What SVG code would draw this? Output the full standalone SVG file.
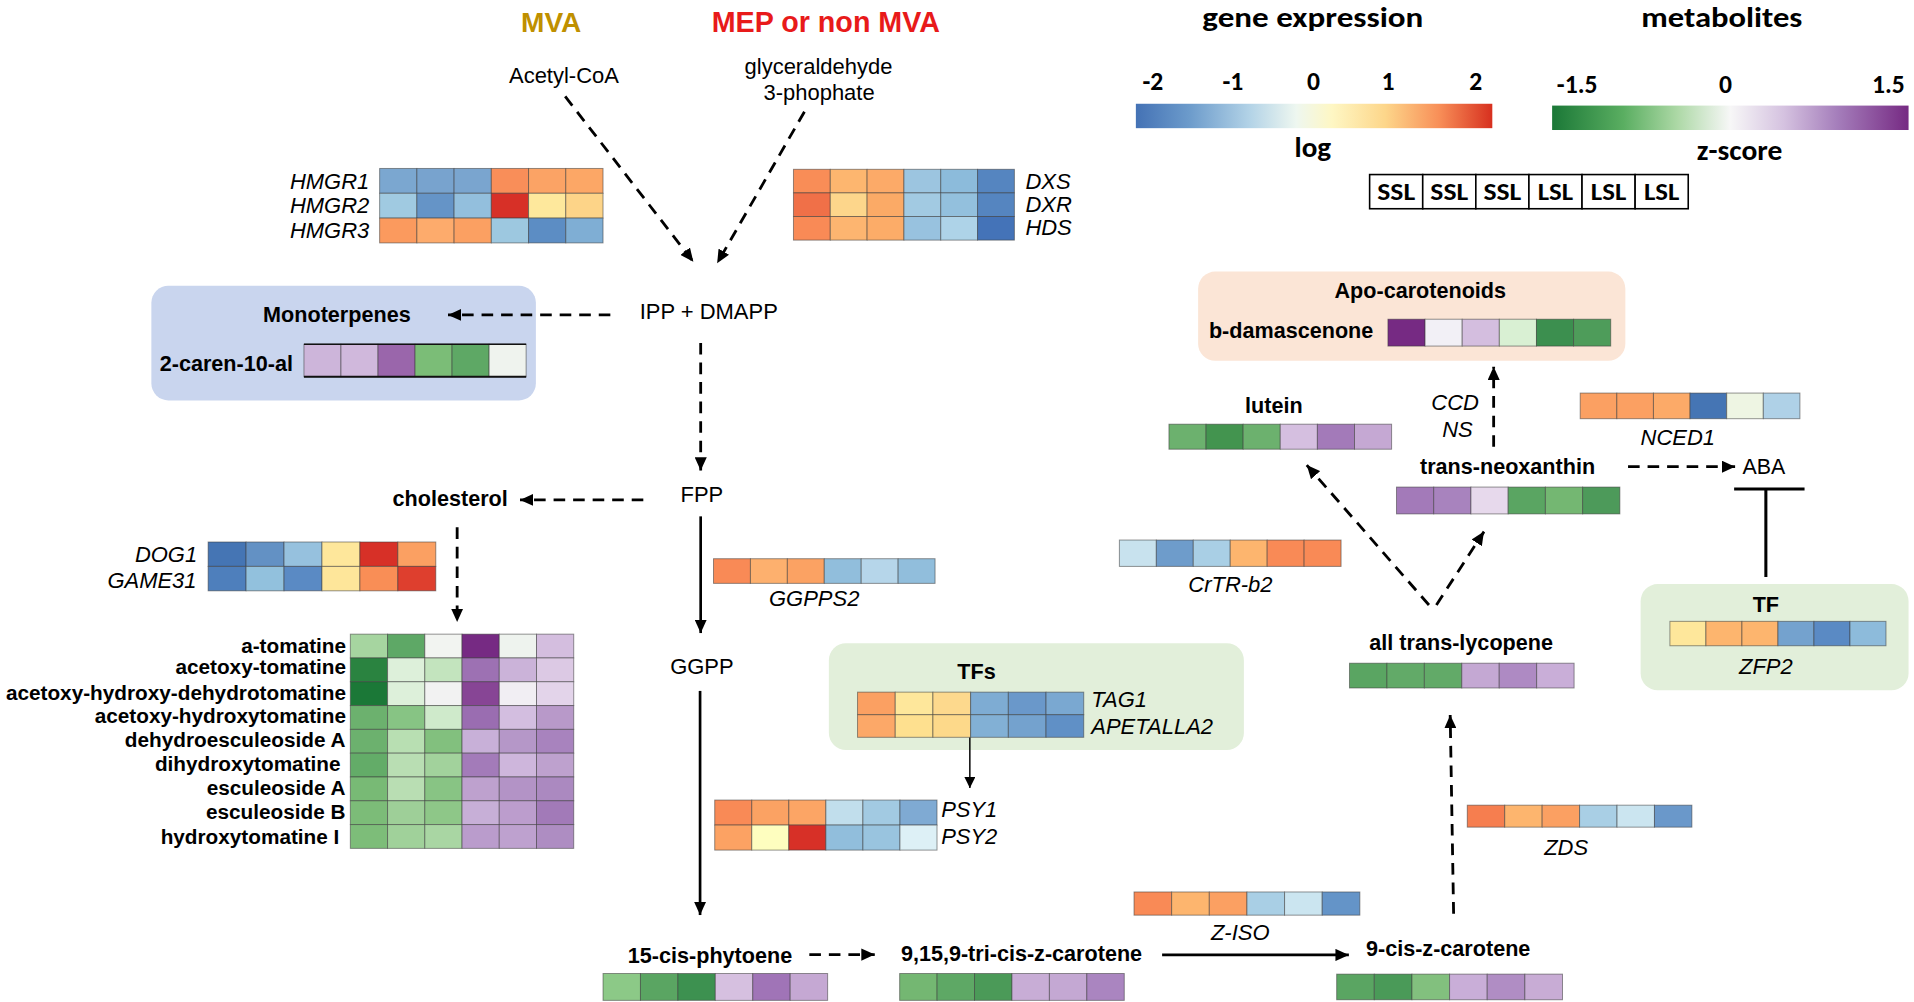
<svg xmlns="http://www.w3.org/2000/svg" width="1914" height="1002" viewBox="0 0 1914 1002">
<defs>
<style>
text{font-family:"Liberation Sans",Arial,sans-serif;fill:#000}
.b{font-weight:bold;font-size:17.7px}
.bt{font-weight:bold;font-size:17px}
.r{font-size:18px}
.i{font-style:italic;font-size:18px}
.cal{font-family:Carlito,Lato,"Open Sans",sans-serif;font-weight:bold}
.hm rect{stroke:#3a3a3a;stroke-opacity:.55;stroke-width:.8}
.d{stroke:#000;stroke-width:2.3;stroke-dasharray:9.5 6.5;fill:none}
.s{stroke:#000;stroke-width:2.2;fill:none}
.m{text-anchor:middle}
.e{text-anchor:end}
</style>
<marker id="ah" markerUnits="userSpaceOnUse" markerWidth="11" markerHeight="10" refX="11" refY="5" orient="auto"><path d="M0,0 L11,5 L0,10 z" fill="#000"/></marker>
<marker id="ahs" markerUnits="userSpaceOnUse" markerWidth="9" markerHeight="9" refX="9" refY="4.5" orient="auto"><path d="M0,0 L9,4.5 L0,9 z" fill="#000"/></marker>
<linearGradient id="gGene" x1="0" x2="1" y1="0" y2="0">
<stop offset="0" stop-color="#4472B5"/><stop offset="0.15" stop-color="#6C9BCB"/><stop offset="0.32" stop-color="#B3D3E7"/><stop offset="0.45" stop-color="#EEF7F0"/><stop offset="0.55" stop-color="#FEF7C4"/><stop offset="0.7" stop-color="#FDD68A"/><stop offset="0.85" stop-color="#F88F58"/><stop offset="1" stop-color="#D7301F"/>
</linearGradient>
<linearGradient id="gMet" x1="0" x2="1" y1="0" y2="0">
<stop offset="0" stop-color="#1B7837"/><stop offset="0.2" stop-color="#5AAE61"/><stop offset="0.35" stop-color="#ACD8A5"/><stop offset="0.5" stop-color="#F7F7F7"/><stop offset="0.65" stop-color="#D5C2E0"/><stop offset="0.8" stop-color="#A57EBB"/><stop offset="1" stop-color="#762A83"/>
</linearGradient>
</defs>
<rect width="1914" height="1002" fill="#fff"/>
<g transform="scale(1.2207)">

<!-- backgrounds -->
<rect id="box-mono" x="124" y="234" width="315" height="94" rx="14" fill="#C9D5EE"/>
<rect id="box-apo" x="981.5" y="222.5" width="350" height="73" rx="14" fill="#FBE5D6"/>
<rect id="box-tfs" x="679" y="527" width="340" height="87.5" rx="14" fill="#E2EFDA"/>
<rect id="box-tf" x="1344" y="478.5" width="219.5" height="87" rx="14" fill="#E2EFDA"/>

<!-- header -->
<g id="title-mva"><text x="451.5" y="26" class="m" style="font-weight:bold;font-size:23px;fill:#BF9000">MVA</text></g>
<g id="title-mep"><text x="676.5" y="26.5" class="m" style="font-weight:bold;font-size:23.5px;fill:#E81A1A">MEP or non MVA</text></g>

<g id="legend-gene">
<text x="985" y="22" class="cal" style="font-size:23px" textLength="181" lengthAdjust="spacingAndGlyphs">gene expression</text>
<text x="944.5" y="74" class="cal m" style="font-size:21px">-2</text>
<text x="1010" y="74" class="cal m" style="font-size:21px">-1</text>
<text x="1076" y="74" class="cal m" style="font-size:21px">0</text>
<text x="1137" y="74" class="cal m" style="font-size:21px">1</text>
<text x="1209" y="74" class="cal m" style="font-size:21px">2</text>
<rect x="930.5" y="85" width="292" height="20" fill="url(#gGene)"/>
<text x="1075.5" y="128.5" class="cal m" style="font-size:23px" textLength="30" lengthAdjust="spacingAndGlyphs">log</text>
</g>
<g id="legend-met">
<text x="1344.5" y="22" class="cal" style="font-size:23px" textLength="132" lengthAdjust="spacingAndGlyphs">metabolites</text>
<text x="1292" y="76.5" class="cal m" style="font-size:21px">-1.5</text>
<text x="1413.5" y="76.5" class="cal m" style="font-size:21px">0</text>
<text x="1547" y="76.5" class="cal m" style="font-size:21px">1.5</text>
<rect x="1271.5" y="86.5" width="292" height="20" fill="url(#gMet)"/>
<text x="1425" y="131" class="cal m" style="font-size:23px" textLength="70" lengthAdjust="spacingAndGlyphs">z-score</text>
</g>
<g id="legend-samples" style="fill:#fff;stroke:#000;stroke-width:1.3">
<rect x="1122" y="143" width="43.5" height="28"/><rect x="1165.5" y="143" width="43.5" height="28"/><rect x="1209" y="143" width="43.5" height="28"/><rect x="1252.5" y="143" width="43.5" height="28"/><rect x="1296" y="143" width="43.5" height="28"/><rect x="1339.5" y="143" width="43.5" height="28"/>
</g>
<g id="legend-sample-labels" class="cal" style="font-size:19px">
<text x="1143.75" y="164" class="cal m" textLength="31" lengthAdjust="spacingAndGlyphs">SSL</text>
<text x="1187.25" y="164" class="cal m" textLength="31" lengthAdjust="spacingAndGlyphs">SSL</text>
<text x="1230.75" y="164" class="cal m" textLength="31" lengthAdjust="spacingAndGlyphs">SSL</text>
<text x="1274.25" y="164" class="cal m" textLength="29" lengthAdjust="spacingAndGlyphs">LSL</text>
<text x="1317.75" y="164" class="cal m" textLength="29" lengthAdjust="spacingAndGlyphs">LSL</text>
<text x="1361.25" y="164" class="cal m" textLength="29" lengthAdjust="spacingAndGlyphs">LSL</text>
</g>

<!-- connectors -->
<g id="connectors">
<line class="d" x1="463" y1="79" x2="568" y2="214.5" marker-end="url(#ah)"/>
<line class="d" x1="659" y1="91.5" x2="587.5" y2="215.7" marker-end="url(#ah)"/>
<line class="d" x1="500" y1="258" x2="367" y2="258" marker-end="url(#ah)"/>
<line class="d" x1="574" y1="281" x2="574" y2="385.5" marker-end="url(#ah)"/>
<line class="d" x1="527" y1="409.5" x2="426" y2="409.5" marker-end="url(#ah)"/>
<line class="d" x1="374.5" y1="432" x2="374.5" y2="509.5" marker-end="url(#ah)"/>
<line class="s" x1="574" y1="423" x2="574" y2="518.6" marker-end="url(#ah)"/>
<line class="s" x1="573.5" y1="566" x2="573.5" y2="749.6" marker-end="url(#ah)"/>
<line x1="794.5" y1="604" x2="794.5" y2="645.5" stroke="#000" stroke-width="1.2" marker-end="url(#ahs)"/>
<line class="d" x1="663" y1="782" x2="716.6" y2="782" marker-end="url(#ah)"/>
<line class="s" x1="952" y1="782.3" x2="1105" y2="782.3" marker-end="url(#ah)"/>
<line class="d" x1="1190.8" y1="748.5" x2="1188" y2="585.7" marker-end="url(#ah)"/>
<line class="d" x1="1170.6" y1="495.6" x2="1070.5" y2="381" marker-end="url(#ah)"/>
<line class="d" x1="1176.7" y1="495.6" x2="1215.7" y2="435.5" marker-end="url(#ah)"/>
<line class="d" x1="1223.6" y1="366" x2="1223.6" y2="300.4" marker-end="url(#ah)"/>
<line class="d" x1="1333.7" y1="382.3" x2="1421.4" y2="382.3" marker-end="url(#ah)"/>
<line x1="1446.6" y1="472.7" x2="1446.6" y2="400.6" stroke="#000" stroke-width="2.5"/>
<line x1="1420.6" y1="400.6" x2="1478.3" y2="400.6" stroke="#000" stroke-width="2.5"/>
</g>

<!-- nodes -->
<g id="acetyl-coa"><text x="462" y="68.3" class="r m">Acetyl-CoA</text></g>
<g id="g3p"><text x="670.5" y="61" class="r m">glyceraldehyde</text><text x="671" y="82" class="r m">3-phophate</text></g>
<g id="ipp-dmapp"><text x="524" y="261" class="r">IPP + DMAPP</text></g>
<g id="fpp"><text x="575" y="411" class="r m">FPP</text></g>
<g id="ggpp"><text x="575" y="552" class="r m">GGPP</text></g>
<g id="aba"><text x="1427.5" y="388.4" class="r" style="font-size:17.5px">ABA</text></g>

<g id="hmgr">
<g class="hm" transform="translate(311 138)">
<rect x="0" y="0" width="30.5" height="20.33" fill="#7BA7D0"/><rect x="30.5" y="0" width="30.5" height="20.33" fill="#78A3CE"/><rect x="61" y="0" width="30.5" height="20.33" fill="#7AA5CF"/><rect x="91.5" y="0" width="30.5" height="20.33" fill="#F98E59"/><rect x="122" y="0" width="30.5" height="20.33" fill="#FBA365"/><rect x="152.5" y="0" width="30.5" height="20.33" fill="#FCA766"/>
<rect x="0" y="20.33" width="30.5" height="20.33" fill="#A0CAE1"/><rect x="30.5" y="20.33" width="30.5" height="20.33" fill="#6594C7"/><rect x="61" y="20.33" width="30.5" height="20.33" fill="#93BFDD"/><rect x="91.5" y="20.33" width="30.5" height="20.33" fill="#D73027"/><rect x="122" y="20.33" width="30.5" height="20.33" fill="#FEE89C"/><rect x="152.5" y="20.33" width="30.5" height="20.33" fill="#FDD488"/>
<rect x="0" y="40.67" width="30.5" height="20.33" fill="#FB9A5E"/><rect x="30.5" y="40.67" width="30.5" height="20.33" fill="#FDAB6C"/><rect x="61" y="40.67" width="30.5" height="20.33" fill="#FBA062"/><rect x="91.5" y="40.67" width="30.5" height="20.33" fill="#9DC8E0"/><rect x="122" y="40.67" width="30.5" height="20.33" fill="#5C8DC4"/><rect x="152.5" y="40.67" width="30.5" height="20.33" fill="#7FAED4"/>
</g>
<text x="302.5" y="155" class="i e">HMGR1</text><text x="302.5" y="174.5" class="i e">HMGR2</text><text x="302.5" y="195" class="i e">HMGR3</text>
</g>

<g id="dxs">
<g class="hm" transform="translate(650 138.7)">
<rect x="0" y="0" width="30.17" height="19.33" fill="#F98D57"/><rect x="30.17" y="0" width="30.17" height="19.33" fill="#FDB66F"/><rect x="60.33" y="0" width="30.17" height="19.33" fill="#FCAA68"/><rect x="90.5" y="0" width="30.17" height="19.33" fill="#9CC5E0"/><rect x="120.67" y="0" width="30.17" height="19.33" fill="#8CBBDB"/><rect x="150.83" y="0" width="30.17" height="19.33" fill="#5585C0"/>
<rect x="0" y="19.33" width="30.17" height="19.33" fill="#F07048"/><rect x="30.17" y="19.33" width="30.17" height="19.33" fill="#FDD68B"/><rect x="60.33" y="19.33" width="30.17" height="19.33" fill="#FBAA66"/><rect x="90.5" y="19.33" width="30.17" height="19.33" fill="#A2CAE2"/><rect x="120.67" y="19.33" width="30.17" height="19.33" fill="#93C0DD"/><rect x="150.83" y="19.33" width="30.17" height="19.33" fill="#5585C0"/>
<rect x="0" y="38.67" width="30.17" height="19.33" fill="#F98A56"/><rect x="30.17" y="38.67" width="30.17" height="19.33" fill="#FDB570"/><rect x="60.33" y="38.67" width="30.17" height="19.33" fill="#FCAC68"/><rect x="90.5" y="38.67" width="30.17" height="19.33" fill="#98C2DF"/><rect x="120.67" y="38.67" width="30.17" height="19.33" fill="#AED3E8"/><rect x="150.83" y="38.67" width="30.17" height="19.33" fill="#4473B8"/>
</g>
<text x="840" y="154.5" class="i">DXS</text><text x="840" y="174" class="i">DXR</text><text x="840" y="192.5" class="i">HDS</text>
</g>

<g id="monoterpenes">
<text x="276" y="264" class="b m">Monoterpenes</text>
<text x="240" y="304" class="b e">2-caren-10-al</text>
<g class="hm" transform="translate(249 282)">
<rect x="0" y="0" width="30.33" height="26.6" fill="#CDB5DA"/><rect x="30.33" y="0" width="30.33" height="26.6" fill="#D0B8DC"/><rect x="60.67" y="0" width="30.33" height="26.6" fill="#9A66AB"/><rect x="91" y="0" width="30.33" height="26.6" fill="#7BBD77"/><rect x="121.33" y="0" width="30.33" height="26.6" fill="#5EA865"/><rect x="151.67" y="0" width="30.33" height="26.6" fill="#EFF3EE"/>
</g>
<line x1="249" y1="282" x2="431" y2="282" stroke="#111" stroke-width="1.2"/>
<line x1="249" y1="308.6" x2="431" y2="308.6" stroke="#111" stroke-width="1.6"/>
</g>

<g id="cholesterol"><text x="416" y="414.5" class="b e">cholesterol</text></g>

<g id="dog1">
<g class="hm" transform="translate(170.5 444)">
<rect x="0" y="0" width="31.08" height="20" fill="#4575B4"/><rect x="31.08" y="0" width="31.08" height="20" fill="#6391C4"/><rect x="62.17" y="0" width="31.08" height="20" fill="#96C1DE"/><rect x="93.25" y="0" width="31.08" height="20" fill="#FEE79B"/><rect x="124.33" y="0" width="31.08" height="20" fill="#D73027"/><rect x="155.42" y="0" width="31.08" height="20" fill="#FBA062"/>
<rect x="0" y="20" width="31.08" height="20" fill="#4E7FBC"/><rect x="31.08" y="20" width="31.08" height="20" fill="#92C1DD"/><rect x="62.17" y="20" width="31.08" height="20" fill="#5A8AC4"/><rect x="93.25" y="20" width="31.08" height="20" fill="#FEE69A"/><rect x="124.33" y="20" width="31.08" height="20" fill="#F98E56"/><rect x="155.42" y="20" width="31.08" height="20" fill="#DE3F2E"/>
</g>
<text x="161.5" y="460" class="i e">DOG1</text><text x="161" y="482" class="i e">GAME31</text>
</g>

<g id="tomatines">
<g class="hm" transform="translate(287 519.5)">
<rect x="0" y="0" width="30.5" height="19.5" fill="#A6D5A0"/><rect x="30.5" y="0" width="30.5" height="19.5" fill="#5EA866"/><rect x="61" y="0" width="30.5" height="19.5" fill="#F2F4F1"/><rect x="91.5" y="0" width="30.5" height="19.5" fill="#762A83"/><rect x="122" y="0" width="30.5" height="19.5" fill="#EEF3EE"/><rect x="152.5" y="0" width="30.5" height="19.5" fill="#D4BEDF"/>
<rect x="0" y="19.5" width="30.5" height="19.5" fill="#2A8340"/><rect x="30.5" y="19.5" width="30.5" height="19.5" fill="#DDF0DA"/><rect x="61" y="19.5" width="30.5" height="19.5" fill="#C3E4BE"/><rect x="91.5" y="19.5" width="30.5" height="19.5" fill="#9D71B3"/><rect x="122" y="19.5" width="30.5" height="19.5" fill="#CBB3D9"/><rect x="152.5" y="19.5" width="30.5" height="19.5" fill="#DCC9E4"/>
<rect x="0" y="39" width="30.5" height="19.5" fill="#1B7837"/><rect x="30.5" y="39" width="30.5" height="19.5" fill="#DDF0DA"/><rect x="61" y="39" width="30.5" height="19.5" fill="#F2F2F2"/><rect x="91.5" y="39" width="30.5" height="19.5" fill="#874595"/><rect x="122" y="39" width="30.5" height="19.5" fill="#F1EEF3"/><rect x="152.5" y="39" width="30.5" height="19.5" fill="#E3D4EA"/>
<rect x="0" y="58.5" width="30.5" height="19.5" fill="#6CB16E"/><rect x="30.5" y="58.5" width="30.5" height="19.5" fill="#87C484"/><rect x="61" y="58.5" width="30.5" height="19.5" fill="#CFEACB"/><rect x="91.5" y="58.5" width="30.5" height="19.5" fill="#9A6DB1"/><rect x="122" y="58.5" width="30.5" height="19.5" fill="#D3BEE0"/><rect x="152.5" y="58.5" width="30.5" height="19.5" fill="#B899C9"/>
<rect x="0" y="78" width="30.5" height="19.5" fill="#6CB16E"/><rect x="30.5" y="78" width="30.5" height="19.5" fill="#B8DFB2"/><rect x="61" y="78" width="30.5" height="19.5" fill="#82C07E"/><rect x="91.5" y="78" width="30.5" height="19.5" fill="#C8B0D8"/><rect x="122" y="78" width="30.5" height="19.5" fill="#B597C8"/><rect x="152.5" y="78" width="30.5" height="19.5" fill="#A883BE"/>
<rect x="0" y="97.5" width="30.5" height="19.5" fill="#63AC68"/><rect x="30.5" y="97.5" width="30.5" height="19.5" fill="#B9DEB3"/><rect x="61" y="97.5" width="30.5" height="19.5" fill="#A2D29C"/><rect x="91.5" y="97.5" width="30.5" height="19.5" fill="#A37BB9"/><rect x="122" y="97.5" width="30.5" height="19.5" fill="#CEB6DC"/><rect x="152.5" y="97.5" width="30.5" height="19.5" fill="#BEA1CE"/>
<rect x="0" y="117" width="30.5" height="19.5" fill="#78BA75"/><rect x="30.5" y="117" width="30.5" height="19.5" fill="#B9DEB3"/><rect x="61" y="117" width="30.5" height="19.5" fill="#88C484"/><rect x="91.5" y="117" width="30.5" height="19.5" fill="#BEA1CE"/><rect x="122" y="117" width="30.5" height="19.5" fill="#B393C6"/><rect x="152.5" y="117" width="30.5" height="19.5" fill="#AB89C0"/>
<rect x="0" y="136.5" width="30.5" height="19.5" fill="#7CBC78"/><rect x="30.5" y="136.5" width="30.5" height="19.5" fill="#9ECF98"/><rect x="61" y="136.5" width="30.5" height="19.5" fill="#8EC788"/><rect x="91.5" y="136.5" width="30.5" height="19.5" fill="#C7AFD7"/><rect x="122" y="136.5" width="30.5" height="19.5" fill="#BC9DCD"/><rect x="152.5" y="136.5" width="30.5" height="19.5" fill="#A27AB8"/>
<rect x="0" y="156" width="30.5" height="19.5" fill="#7DBD79"/><rect x="30.5" y="156" width="30.5" height="19.5" fill="#A0D19A"/><rect x="61" y="156" width="30.5" height="19.5" fill="#A9D6A3"/><rect x="91.5" y="156" width="30.5" height="19.5" fill="#BA9CCC"/><rect x="122" y="156" width="30.5" height="19.5" fill="#BEA1CF"/><rect x="152.5" y="156" width="30.5" height="19.5" fill="#AE8DC2"/>
</g>
<text x="283.5" y="535" class="bt e">a-tomatine</text>
<text x="283.5" y="552.5" class="bt e">acetoxy-tomatine</text>
<text x="283.5" y="573.5" class="bt e">acetoxy-hydroxy-dehydrotomatine</text>
<text x="283.5" y="592" class="bt e">acetoxy-hydroxytomatine</text>
<text x="283" y="612" class="bt e">dehydroesculeoside A</text>
<text x="279" y="631.5" class="bt e">dihydroxytomatine</text>
<text x="283" y="651" class="bt e">esculeoside A</text>
<text x="283" y="671" class="bt e">esculeoside B</text>
<text x="278" y="691" class="bt e">hydroxytomatine I</text>
</g>

<g id="ggpps2">
<g class="hm" transform="translate(584.5 457.7)">
<rect x="0" y="0" width="30.25" height="20.2" fill="#F98A56"/><rect x="30.25" y="0" width="30.25" height="20.2" fill="#FDB06E"/><rect x="60.5" y="0" width="30.25" height="20.2" fill="#FBA263"/><rect x="90.75" y="0" width="30.25" height="20.2" fill="#91BEDC"/><rect x="121" y="0" width="30.25" height="20.2" fill="#B6D6EA"/><rect x="151.25" y="0" width="30.25" height="20.2" fill="#91BEDC"/>
</g>
<text x="667" y="496.5" class="i m">GGPPS2</text>
</g>

<g id="tfs">
<text x="800" y="556" class="b m">TFs</text>
<g class="hm" transform="translate(702.5 567)">
<rect x="0" y="0" width="30.88" height="18.5" fill="#FBA062"/><rect x="30.88" y="0" width="30.88" height="18.5" fill="#FEE79B"/><rect x="61.77" y="0" width="30.88" height="18.5" fill="#FDD98D"/><rect x="92.65" y="0" width="30.88" height="18.5" fill="#7EACD3"/><rect x="123.53" y="0" width="30.88" height="18.5" fill="#6A98CA"/><rect x="154.42" y="0" width="30.88" height="18.5" fill="#7AA8D1"/>
<rect x="0" y="18.5" width="30.88" height="18.5" fill="#FCA868"/><rect x="30.88" y="18.5" width="30.88" height="18.5" fill="#FEE08F"/><rect x="61.77" y="18.5" width="30.88" height="18.5" fill="#FDD98A"/><rect x="92.65" y="18.5" width="30.88" height="18.5" fill="#82B0D5"/><rect x="123.53" y="18.5" width="30.88" height="18.5" fill="#74A2CE"/><rect x="154.42" y="18.5" width="30.88" height="18.5" fill="#6090C6"/>
</g>
<text x="894" y="579" class="i">TAG1</text><text x="894" y="601" class="i">APETALLA2</text>
</g>

<g id="psy">
<g class="hm" transform="translate(585.5 655.4)">
<rect x="0" y="0" width="30.35" height="20.5" fill="#F98A56"/><rect x="30.35" y="0" width="30.35" height="20.5" fill="#FBA263"/><rect x="60.7" y="0" width="30.35" height="20.5" fill="#FCA565"/><rect x="91.05" y="0" width="30.35" height="20.5" fill="#C1DEEC"/><rect x="121.4" y="0" width="30.35" height="20.5" fill="#A2CAE2"/><rect x="151.75" y="0" width="30.35" height="20.5" fill="#7FAAD3"/>
<rect x="0" y="20.5" width="30.35" height="20.5" fill="#FCA263"/><rect x="30.35" y="20.5" width="30.35" height="20.5" fill="#FEFEBF"/><rect x="60.7" y="20.5" width="30.35" height="20.5" fill="#D73027"/><rect x="91.05" y="20.5" width="30.35" height="20.5" fill="#91BEDC"/><rect x="121.4" y="20.5" width="30.35" height="20.5" fill="#99C4DF"/><rect x="151.75" y="20.5" width="30.35" height="20.5" fill="#DDF0F6"/>
</g>
<text x="771" y="669.5" class="i">PSY1</text><text x="771" y="691" class="i">PSY2</text>
</g>

<g id="phytoene">
<text x="649" y="789" class="b e">15-cis-phytoene</text>
<g class="hm" transform="translate(494 797.5)">
<rect x="0" y="0" width="30.67" height="22" fill="#8CC987"/><rect x="30.67" y="0" width="30.67" height="22" fill="#5AA562"/><rect x="61.33" y="0" width="30.67" height="22" fill="#3D9150"/><rect x="92" y="0" width="30.67" height="22" fill="#D6C0E0"/><rect x="122.67" y="0" width="30.67" height="22" fill="#A074B7"/><rect x="153.33" y="0" width="30.67" height="22" fill="#C5A8D3"/>
</g>
</g>

<g id="tri-cis-carotene">
<text x="738" y="787.5" class="b">9,15,9-tri-cis-z-carotene</text>
<g class="hm" transform="translate(737 797.5)">
<rect x="0" y="0" width="30.67" height="22" fill="#74B772"/><rect x="30.67" y="0" width="30.67" height="22" fill="#5EA865"/><rect x="61.33" y="0" width="30.67" height="22" fill="#4B9A58"/><rect x="92" y="0" width="30.67" height="22" fill="#C8ADD6"/><rect x="122.67" y="0" width="30.67" height="22" fill="#C4A8D3"/><rect x="153.33" y="0" width="30.67" height="22" fill="#AA85C0"/>
</g>
</g>

<g id="z-iso">
<g class="hm" transform="translate(929 730.7)">
<rect x="0" y="0" width="30.83" height="19" fill="#F98A56"/><rect x="30.83" y="0" width="30.83" height="19" fill="#FDB56E"/><rect x="61.67" y="0" width="30.83" height="19" fill="#FBA062"/><rect x="92.5" y="0" width="30.83" height="19" fill="#A9CFE5"/><rect x="123.33" y="0" width="30.83" height="19" fill="#CBE5F0"/><rect x="154.17" y="0" width="30.83" height="19" fill="#6494C8"/>
</g>
<text x="1016" y="770" class="i m">Z-ISO</text>
</g>

<g id="cis-carotene">
<text x="1119" y="783.5" class="b">9-cis-z-carotene</text>
<g class="hm" transform="translate(1095 798)">
<rect x="0" y="0" width="30.83" height="21" fill="#5AA562"/><rect x="30.83" y="0" width="30.83" height="21" fill="#4A9A58"/><rect x="61.67" y="0" width="30.83" height="21" fill="#82C07E"/><rect x="92.5" y="0" width="30.83" height="21" fill="#C9AED8"/><rect x="123.33" y="0" width="30.83" height="21" fill="#B08DC4"/><rect x="154.17" y="0" width="30.83" height="21" fill="#C8ACD5"/>
</g>
</g>

<g id="zds">
<g class="hm" transform="translate(1202 659.6)">
<rect x="0" y="0" width="30.67" height="18" fill="#F67E4F"/><rect x="30.67" y="0" width="30.67" height="18" fill="#FDB56E"/><rect x="61.33" y="0" width="30.67" height="18" fill="#FBA062"/><rect x="92" y="0" width="30.67" height="18" fill="#A9CFE5"/><rect x="122.67" y="0" width="30.67" height="18" fill="#CBE5F0"/><rect x="153.33" y="0" width="30.67" height="18" fill="#6A98CA"/>
</g>
<text x="1283" y="700.5" class="i m">ZDS</text>
</g>

<g id="lycopene">
<text x="1197" y="532.5" class="b m">all trans-lycopene</text>
<g class="hm" transform="translate(1105.5 543.3)">
<rect x="0" y="0" width="30.67" height="20.3" fill="#5AA562"/><rect x="30.67" y="0" width="30.67" height="20.3" fill="#62AA68"/><rect x="61.33" y="0" width="30.67" height="20.3" fill="#62AA68"/><rect x="92" y="0" width="30.67" height="20.3" fill="#C4A8D3"/><rect x="122.67" y="0" width="30.67" height="20.3" fill="#AE8AC3"/><rect x="153.33" y="0" width="30.67" height="20.3" fill="#C9AED8"/>
</g>
</g>

<g id="lutein">
<text x="1043.5" y="338" class="b m">lutein</text>
<g class="hm" transform="translate(957.6 347.5)">
<rect x="0" y="0" width="30.4" height="20.5" fill="#6CB16E"/><rect x="30.4" y="0" width="30.4" height="20.5" fill="#43944F"/><rect x="60.8" y="0" width="30.4" height="20.5" fill="#6CB16E"/><rect x="91.2" y="0" width="30.4" height="20.5" fill="#D5BFE0"/><rect x="121.6" y="0" width="30.4" height="20.5" fill="#A37AB9"/><rect x="152" y="0" width="30.4" height="20.5" fill="#C5A8D3"/>
</g>
</g>

<g id="crtr-b2">
<g class="hm" transform="translate(917 442.4)">
<rect x="0" y="0" width="30.27" height="21.6" fill="#C8E2EE"/><rect x="30.27" y="0" width="30.27" height="21.6" fill="#6E9CCB"/><rect x="60.53" y="0" width="30.27" height="21.6" fill="#A9CFE5"/><rect x="90.8" y="0" width="30.27" height="21.6" fill="#FDB56E"/><rect x="121.07" y="0" width="30.27" height="21.6" fill="#F98A56"/><rect x="151.33" y="0" width="30.27" height="21.6" fill="#F98A56"/>
</g>
<text x="1008" y="485" class="i m">CrTR-b2</text>
</g>

<g id="neoxanthin">
<text x="1235" y="388.3" class="b m">trans-neoxanthin</text>
<g class="hm" transform="translate(1144 399)">
<rect x="0" y="0" width="30.5" height="22" fill="#A37AB9"/><rect x="30.5" y="0" width="30.5" height="22" fill="#A883BE"/><rect x="61" y="0" width="30.5" height="22" fill="#E7D9EC"/><rect x="91.5" y="0" width="30.5" height="22" fill="#5AA562"/><rect x="122" y="0" width="30.5" height="22" fill="#74B772"/><rect x="152.5" y="0" width="30.5" height="22" fill="#4D9A5A"/>
</g>
</g>

<g id="ccd-ns"><text x="1192" y="336" class="i m">CCD</text><text x="1194" y="358" class="i m">NS</text></g>

<g id="apo-carotenoids">
<text x="1163.5" y="244" class="b m">Apo-carotenoids</text>
<text x="1125" y="277" class="b e">b-damascenone</text>
<g class="hm" transform="translate(1137 261.5)">
<rect x="0" y="0" width="30.42" height="22" fill="#762A83"/><rect x="30.42" y="0" width="30.42" height="22" fill="#F2F0F6"/><rect x="60.83" y="0" width="30.42" height="22" fill="#D4BEDF"/><rect x="91.25" y="0" width="30.42" height="22" fill="#D9F0D3"/><rect x="121.67" y="0" width="30.42" height="22" fill="#3C8F4F"/><rect x="152.08" y="0" width="30.42" height="22" fill="#4E9C5A"/>
</g>
</g>

<g id="nced1">
<g class="hm" transform="translate(1294.5 322)">
<rect x="0" y="0" width="30" height="21" fill="#FBA062"/><rect x="30" y="0" width="30" height="21" fill="#FBA062"/><rect x="60" y="0" width="30" height="21" fill="#FCAA68"/><rect x="90" y="0" width="30" height="21" fill="#4575B4"/><rect x="120" y="0" width="30" height="21" fill="#EEF5E3"/><rect x="150" y="0" width="30" height="21" fill="#AFD1E7"/>
</g>
<text x="1374.5" y="364.5" class="i m">NCED1</text>
</g>

<g id="tf-zfp2">
<text x="1446.6" y="501" class="b m">TF</text>
<g class="hm" transform="translate(1368 509)">
<rect x="0" y="0" width="29.5" height="20" fill="#FEE79B"/><rect x="29.5" y="0" width="29.5" height="20" fill="#FDB56E"/><rect x="59" y="0" width="29.5" height="20" fill="#FDB56E"/><rect x="88.5" y="0" width="29.5" height="20" fill="#74A2CE"/><rect x="118" y="0" width="29.5" height="20" fill="#5A8AC4"/><rect x="147.5" y="0" width="29.5" height="20" fill="#8DBBDB"/>
</g>
<text x="1446.6" y="552" class="i m">ZFP2</text>
</g>

</g>
</svg>
